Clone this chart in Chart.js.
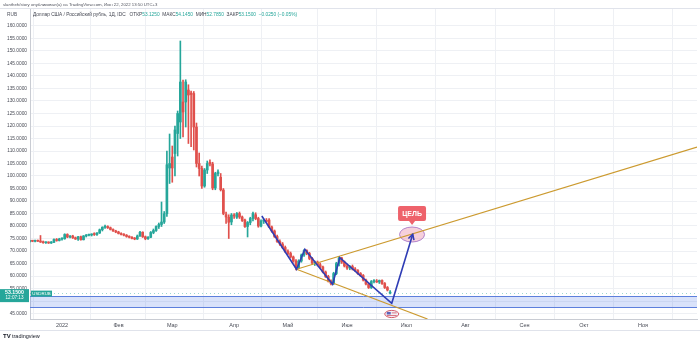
<!DOCTYPE html>
<html>
<head>
<meta charset="utf-8">
<script src="https://cdn.jsdelivr.net/npm/chart.js@4.4.1/dist/chart.umd.min.js"></script>
<style>
  html, body { margin: 0; padding: 0; background: #fff; }
</style>
</head>
<body>
<canvas id="chart" width="700" height="342"></canvas>
<script>
// bar index 0 = first trading day of 2022
const firstBar = -12;

const opens = [
  73.8, 74.0, 73.9, 74.1, 74.0, 73.6, 73.3, 73.4, 73.2, 73.5,
  74.6, 74.2, 74.8, 74.9, 76.6, 75.6, 76.0, 75.3, 74.8, 75.7,
  74.5, 76.0, 76.3, 76.4, 76.7, 76.6, 77.2, 78.5, 79.5, 79.8,
  79.3, 78.6, 78.0, 77.6, 77.0, 76.6, 76.3, 75.8, 75.5, 75.0,
  74.8, 76.0, 77.5, 75.7, 74.9, 75.5, 77.4, 78.2, 79.8, 80.6,
  81.6, 84.9, 103.2, 107.6, 109.0, 117.0, 121.6, 129.6, 129.6, 134.4,
  133.2, 133.0, 119.6, 105.0, 103.0, 96.0, 102.4, 105.5, 104.8, 95.2,
  101.0, 99.5, 94.4, 84.5, 83.5, 81.6, 84.4, 83.5, 85.0, 83.6,
  82.4, 79.8, 81.4, 83.0, 84.5, 83.0, 80.0, 82.0, 82.3, 82.4,
  79.6, 78.0, 75.8, 73.8, 72.8, 71.4, 69.8, 69.0, 67.6, 66.0,
  63.4, 66.0, 68.4, 70.2, 69.0, 67.0, 65.2, 65.6, 64.5, 63.6,
  61.6, 59.8, 58.0, 57.0, 61.0, 65.0, 67.2, 65.6, 64.0, 63.2,
  63.8, 62.8, 62.2, 61.0, 60.2, 58.4, 56.8, 55.4, 57.8, 58.0,
  57.6, 58.2, 57.0, 55.4, 53.125
];
const highs = [
  74.2, 74.3, 74.4, 74.4, 76.2, 74.0, 73.7, 73.7, 73.8, 74.9,
  75.0, 75.1, 75.3, 76.9, 76.9, 76.2, 76.3, 75.6, 75.9, 76.0,
  76.2, 76.6, 76.8, 76.9, 77.3, 77.4, 78.8, 79.7, 80.4, 80.1,
  79.6, 78.9, 78.3, 77.9, 77.3, 77.0, 76.6, 76.1, 75.8, 75.4,
  76.4, 77.9, 77.7, 76.0, 75.8, 77.8, 78.8, 80.1, 81.2, 89.6,
  85.8, 110.0, 116.8, 112.0, 120.0, 126.0, 154.0, 138.4, 138.5, 136.5,
  134.0, 133.8, 121.2, 109.2, 104.0, 103.0, 106.0, 106.5, 105.5, 101.5,
  102.5, 101.0, 95.0, 85.6, 84.5, 85.0, 85.0, 85.4, 85.6, 84.0,
  82.8, 81.8, 83.5, 85.6, 85.3, 83.5, 82.5, 82.8, 83.0, 83.0,
  80.0, 78.4, 76.4, 74.5, 73.4, 72.0, 70.5, 69.6, 68.0, 66.6,
  66.5, 68.8, 70.6, 70.5, 69.5, 67.5, 66.0, 66.0, 65.2, 64.0,
  62.0, 60.3, 58.5, 61.5, 65.5, 67.8, 67.5, 66.0, 64.8, 64.2,
  64.4, 63.4, 62.6, 61.4, 60.6, 58.8, 57.2, 58.2, 58.6, 58.6,
  58.4, 58.5, 57.4, 55.8, 54.145
];
const lows = [
  73.5, 73.7, 73.6, 73.8, 73.4, 73.1, 73.0, 73.0, 73.0, 73.3,
  73.9, 74.0, 74.3, 74.7, 75.3, 75.2, 75.0, 74.6, 74.2, 74.3,
  74.4, 75.6, 76.0, 76.0, 76.2, 76.2, 77.0, 78.0, 79.0, 79.0,
  78.4, 77.8, 77.3, 76.8, 76.4, 76.0, 75.5, 75.2, 74.8, 74.5,
  74.6, 75.8, 75.4, 74.5, 74.6, 75.3, 76.9, 77.8, 79.0, 79.8,
  81.0, 83.8, 97.0, 97.5, 100.0, 108.0, 115.0, 115.6, 119.6, 113.0,
  111.7, 110.4, 103.6, 100.0, 95.0, 95.5, 101.0, 104.0, 94.5, 94.5,
  100.0, 94.0, 84.5, 81.0, 75.0, 80.5, 83.0, 83.0, 83.0, 81.8,
  79.4, 75.6, 80.5, 82.0, 82.5, 79.5, 79.6, 81.0, 81.5, 79.4,
  77.5, 75.4, 73.4, 72.2, 71.0, 69.4, 68.5, 67.2, 65.5, 62.4,
  63.0, 65.5, 67.8, 68.5, 66.5, 64.6, 64.2, 64.0, 63.2, 61.2,
  59.4, 57.6, 56.4, 56.6, 60.5, 64.0, 65.0, 63.6, 62.6, 62.5,
  62.4, 61.8, 60.6, 59.8, 58.0, 56.4, 55.0, 55.0, 57.2, 57.4,
  57.0, 56.6, 55.0, 54.0, 52.785
];
const closes = [
  74.0, 73.9, 74.1, 73.9, 73.6, 73.3, 73.4, 73.2, 73.5, 74.6,
  74.2, 74.8, 74.9, 76.6, 75.6, 76.0, 75.3, 74.8, 75.7, 74.5,
  76.0, 76.3, 76.4, 76.7, 76.6, 77.2, 78.5, 79.5, 79.8, 79.3,
  78.6, 78.0, 77.6, 77.0, 76.6, 76.3, 75.8, 75.5, 75.0, 74.8,
  76.0, 77.5, 75.7, 74.9, 75.5, 77.4, 78.2, 79.8, 80.6, 81.6,
  84.9, 104.5, 105.0, 103.2, 118.4, 125.0, 137.6, 125.6, 137.6, 132.4,
  132.6, 119.6, 105.0, 103.0, 96.0, 102.4, 105.0, 104.8, 95.2, 101.0,
  101.6, 94.5, 85.0, 83.6, 81.5, 84.4, 84.0, 85.0, 83.6, 82.2,
  79.8, 81.4, 83.0, 85.0, 83.0, 80.0, 82.0, 82.3, 81.8, 79.6,
  78.0, 75.8, 73.8, 72.8, 71.4, 69.8, 69.0, 67.6, 66.0, 63.4,
  66.0, 68.4, 70.2, 69.0, 67.0, 65.2, 65.6, 64.5, 63.6, 61.6,
  59.8, 58.0, 57.0, 61.0, 65.0, 67.2, 65.6, 64.0, 63.2, 63.8,
  62.8, 62.2, 61.0, 60.2, 58.4, 56.8, 55.4, 57.8, 58.0, 57.6,
  58.2, 57.0, 55.4, 54.4, 53.15
];

// month ticks (bar index) and their labels
const monthTicks = [0, 21, 41, 64, 84, 106, 128, 150, 172, 194, 216];
const monthLabels = ['2022', 'Фев', 'Мар', 'Апр', 'Май', 'Июн', 'Июл', 'Авг', 'Сен', 'Окт', 'Ноя'];

// drawings: wave zigzag and the channel
const waveX = [74.3, 87.2, 90.3, 100.6, 103.3, 122.6, 130.4];
const waveY = [84.0, 62.7, 70.7, 56.7, 67.3, 49.1, 76.7];
const upperX = [87.2, 236.1];
const upperY = [62.7, 111.6];
const lowerX = [87.2, 135.9];
const lowerY = [62.7, 42.8];

// support zone and target
const zoneTop = 52.0;
const zoneBottom = 47.6;
const targetX = [125.5, 134.8];
const targetY = [73.6, 79.6];

const xMin = -11.9, xMax = 236.1;
const yMin = 42.8, yMax = 167.2;

const UP = '#26a69a';
const DOWN = '#e0504c';
const TEXT = '#4a4d57';
const FONT = 'Liberation Sans, Arial, sans-serif';

const colors = closes.map((c, i) => c >= opens[i] ? UP : DOWN);
const wicks = highs.map((h, i) => ({ x: firstBar + i, y: [lows[i], h] }));
const bodies = opens.map((o, i) => ({ x: firstBar + i, y: [o, closes[i]] }));
const pts = (xs, ys) => xs.map((x, i) => ({ x: x, y: ys[i] }));

const overlays = {
  id: 'overlays',
  beforeDatasetsDraw(chart) {
    const { ctx, chartArea: a, scales: { x, y } } = chart;
    ctx.save();
    // blue zone
    const t = Math.round(y.getPixelForValue(zoneTop)) + 0.5;
    const b = Math.round(y.getPixelForValue(zoneBottom)) + 0.5;
    ctx.fillStyle = 'rgba(66,110,230,0.2)';
    ctx.fillRect(a.left, t, a.right - a.left, b - t);
    ctx.strokeStyle = '#5d7fdc';
    ctx.lineWidth = 1;
    ctx.beginPath();
    ctx.moveTo(a.left, t); ctx.lineTo(a.right, t);
    ctx.moveTo(a.left, b); ctx.lineTo(a.right, b);
    ctx.stroke();
    // last price dotted line
    const py = Math.round(y.getPixelForValue(closes[closes.length - 1])) + 0.5;
    ctx.setLineDash([1, 3]);
    ctx.strokeStyle = 'rgba(38,166,154,0.45)';
    ctx.beginPath(); ctx.moveTo(a.left, py); ctx.lineTo(a.right, py); ctx.stroke();
    ctx.setLineDash([]);
    // target ellipse
    const x0 = x.getPixelForValue(targetX[0]), x1 = x.getPixelForValue(targetX[1]);
    const y0 = y.getPixelForValue(targetY[1]), y1 = y.getPixelForValue(targetY[0]);
    ctx.beginPath();
    ctx.ellipse((x0 + x1) / 2, (y0 + y1) / 2, (x1 - x0) / 2, (y1 - y0) / 2, 0, 0, Math.PI * 2);
    ctx.fillStyle = 'rgba(236,150,175,0.45)';
    ctx.fill();
    ctx.strokeStyle = 'rgba(170,120,200,0.9)';
    ctx.stroke();
    ctx.restore();
  },
  afterDatasetsDraw(chart) {
    const { ctx, scales: { x, y } } = chart;
    ctx.save();
    // arrow head on the wave
    const pw = chart.getDatasetMeta(2).data;
    const p1 = pw[pw.length - 2], p2 = pw[pw.length - 1];
    const ang = Math.atan2(p2.y - p1.y, p2.x - p1.x);
    ctx.strokeStyle = '#2f3db5';
    ctx.lineWidth = 1.6;
    ctx.beginPath();
    ctx.moveTo(p2.x - 6 * Math.cos(ang - 0.5), p2.y - 6 * Math.sin(ang - 0.5));
    ctx.lineTo(p2.x, p2.y);
    ctx.lineTo(p2.x - 6 * Math.cos(ang + 0.5), p2.y - 6 * Math.sin(ang + 0.5));
    ctx.stroke();
    // callout above the target
    const cx = (x.getPixelForValue(targetX[0]) + x.getPixelForValue(targetX[1])) / 2;
    const top = y.getPixelForValue(targetY[1]);
    const bw = 28, bh = 15, by = top - 21;
    ctx.fillStyle = '#ee626b';
    ctx.beginPath();
    ctx.roundRect(cx - bw / 2, by, bw, bh, 2);
    ctx.fill();
    ctx.beginPath();
    ctx.moveTo(cx - 3, by + bh); ctx.lineTo(cx + 3, by + bh); ctx.lineTo(cx, by + bh + 4);
    ctx.fill();
    ctx.fillStyle = '#fff';
    ctx.font = 'bold 7px ' + FONT;
    ctx.textAlign = 'center'; ctx.textBaseline = 'middle';
    ctx.fillText('ЦЕЛЬ', cx, by + bh / 2 + 0.5);
    // small flag icon under the last bar
    const fx = x.getPixelForValue(122.6), fy = y.getPixelForValue(44.8);
    ctx.beginPath();
    ctx.ellipse(fx, fy, 7, 3.6, 0, 0, Math.PI * 2);
    ctx.fillStyle = '#f3f0f6'; ctx.fill();
    ctx.strokeStyle = '#d45b6a'; ctx.lineWidth = 1; ctx.stroke();
    ctx.fillStyle = '#5b62b8';
    ctx.fillRect(fx - 5, fy - 2, 4, 2.5);
    ctx.fillStyle = '#d45b6a';
    ctx.fillRect(fx, fy - 1.5, 5, 0.8);
    ctx.fillRect(fx - 5, fy + 1, 10, 0.8);
    ctx.restore();
  },
  afterDraw(chart) {
    const { ctx, chartArea: a, scales: { y } } = chart;
    ctx.save();
    // frame lines
    ctx.strokeStyle = '#e0e3eb'; ctx.lineWidth = 1;
    ctx.beginPath();
    ctx.moveTo(0, 8.5); ctx.lineTo(700, 8.5);
    ctx.moveTo(0, 330.5); ctx.lineTo(700, 330.5);
    ctx.stroke();
    // header
    ctx.textBaseline = 'middle'; ctx.textAlign = 'left';
    ctx.fillStyle = '#50535e';
    ctx.font = '4.3px ' + FONT;
    ctx.fillText('slantheh/story опубликовал(а) на TradingView.com, Июн 22, 2022 13:50 UTC+3', 3, 4.5);
    ctx.font = '4.8px ' + FONT;
    ctx.fillText('RUB', 7, 15);
    const parts = [
      ['Доллар США / Российский рубль, 1Д, IDC   ', '#434651'],
      ['ОТКР', '#434651'], ['53.1250', UP],
      ['  МАКС', '#434651'], ['54.1450', UP],
      ['  МИН', '#434651'], ['52.7850', UP],
      ['  ЗАКР', '#434651'], ['53.1500', UP],
      ['  −0.0250 (−0.05%)', UP]
    ];
    let tx = 33;
    parts.forEach(([s, c]) => {
      ctx.fillStyle = c;
      ctx.fillText(s, tx, 15);
      tx += ctx.measureText(s).width;
    });
    // last price label on the scale
    const py = y.getPixelForValue(closes[closes.length - 1]);
    ctx.fillStyle = UP;
    ctx.fillRect(0, py - 4, a.left - 1, 13);
    ctx.fillRect(a.left + 1, py - 2.5, 21, 6);
    ctx.fillStyle = '#fff';
    ctx.font = 'bold 5.2px ' + FONT;
    ctx.textAlign = 'center';
    ctx.fillText('53.1500', 14.5, py - 0.5);
    ctx.font = '4.6px ' + FONT;
    ctx.fillText('12:07:13', 14.5, py + 5);
    ctx.font = '4.4px ' + FONT;
    ctx.fillText('USDRUB', a.left + 11.5, py + 0.5);
    // logo
    ctx.textAlign = 'left';
    ctx.fillStyle = '#131722';
    ctx.font = 'bold 6px ' + FONT;
    ctx.fillText('TV', 3, 336.5);
    ctx.font = '5.5px ' + FONT;
    ctx.fillText('tradingview', 12, 336.5);
    ctx.restore();
  }
};

new Chart(document.getElementById('chart'), {
  type: 'bar',
  data: {
    datasets: [
      {
        label: 'wicks', data: wicks, backgroundColor: colors,
        barThickness: 1, grouped: false, order: 4
      },
      {
        label: 'bodies', data: bodies, backgroundColor: colors,
        barThickness: 2, minBarLength: 1, grouped: false, order: 3
      },
      {
        type: 'line', label: 'wave', data: pts(waveX, waveY),
        borderColor: '#2f3db5', borderWidth: 1.6, pointRadius: 0, tension: 0, order: 1
      },
      {
        type: 'line', label: 'upper', data: pts(upperX, upperY),
        borderColor: '#cc9a2f', borderWidth: 1.2, pointRadius: 0, tension: 0, order: 2
      },
      {
        type: 'line', label: 'lower', data: pts(lowerX, lowerY),
        borderColor: '#cc9a2f', borderWidth: 1.2, pointRadius: 0, tension: 0, order: 2
      }
    ]
  },
  options: {
    responsive: false,
    animation: false,
    devicePixelRatio: 1,
    layout: { padding: { top: 8, right: 3, bottom: 12, left: 0 } },
    plugins: { legend: { display: false }, tooltip: { enabled: false } },
    scales: {
      x: {
        type: 'linear', min: xMin, max: xMax, offset: false,
        afterFit(s) { s.height = 11; },
        afterBuildTicks(s) { s.ticks = monthTicks.map(v => ({ value: v })); },
        ticks: {
          autoSkip: false, maxRotation: 0, padding: 3, color: TEXT,
          font: { size: 5.5, family: FONT },
          callback: v => monthLabels[monthTicks.indexOf(v)] || ''
        },
        grid: { color: '#eef0f4', drawTicks: false },
        border: { color: '#c9ccd3' }
      },
      y: {
        position: 'left', min: yMin, max: yMax,
        afterFit(s) { s.width = 30; },
        afterBuildTicks(s) { s.ticks = s.ticks.filter(t => t.value >= 45 && t.value <= 160); },
        ticks: {
          stepSize: 5, includeBounds: false, padding: 3, color: TEXT,
          font: { size: 4.8, family: FONT },
          callback: v => v.toFixed(4)
        },
        grid: { color: '#eef0f4', drawTicks: false },
        border: { color: '#c9ccd3' }
      }
    }
  },
  plugins: [overlays]
});
</script>
</body>
</html>
